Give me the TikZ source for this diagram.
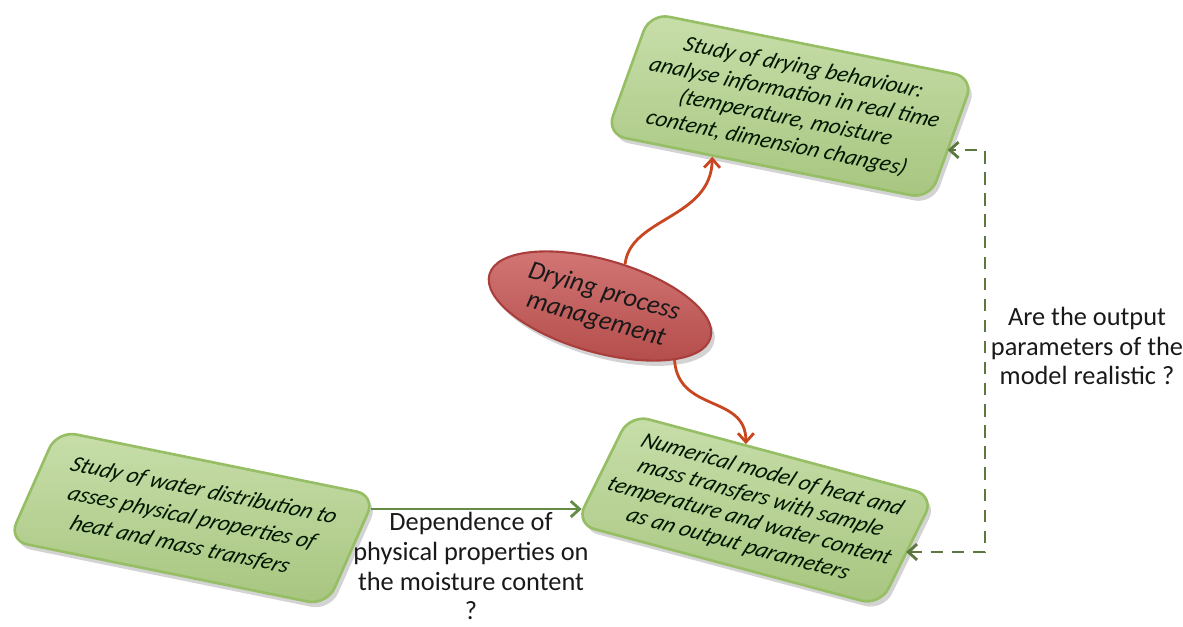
\documentclass[tikz,border=0pt]{standalone}
\usepackage{fontspec}
\setmainfont{Carlito}
\usetikzlibrary{arrows.meta,shadows,calc,shapes.geometric}
\definecolor{boxfill}{RGB}{176,208,134}
\definecolor{boxedge}{RGB}{150,190,100}
\definecolor{ellfill}{RGB}{200,86,84}
\definecolor{elledge}{RGB}{170,62,60}
\definecolor{redarrow}{RGB}{200,70,32}
\definecolor{greenarrow}{RGB}{100,140,70}
\definecolor{dashgreen}{RGB}{90,120,64}
\begin{document}
\begin{tikzpicture}[x=0.02cm,y=-0.02cm,
  greenbox/.style={draw=boxedge, line width=1.5pt, rounded corners=11pt,
    top color=boxfill!70!white, bottom color=boxfill!95!black,
    drop shadow={opacity=0.35, shadow xshift=2pt, shadow yshift=-3pt},
    align=center, text=black!85!green!60!black},
  redell/.style={ellipse, draw=elledge, line width=1.2pt,
    top color=ellfill!80!white, bottom color=ellfill!90!black,
    drop shadow={opacity=0.35, shadow xshift=2pt, shadow yshift=-3pt},
    align=center, font=\fontsize{15}{16.5}\selectfont\itshape, text=black!90},
  redarr/.style={draw=redarrow, line width=1.6pt, -{Straight Barb[length=5pt,width=9pt]}},
  greenarr/.style={draw=greenarrow, line width=1.6pt, -{Straight Barb[length=5pt,width=9pt]}},
  dasharr/.style={draw=dashgreen, line width=1.6pt, dash pattern=on 7pt off 5pt,
    {Straight Barb[length=5pt,width=9pt]}-{Straight Barb[length=5pt,width=9pt]}},
  lbl/.style={align=center, font=\fontsize{15}{17}\selectfont, text=black!90}
]
\useasboundingbox (0,0) rectangle (1183,626);

\node[greenbox, minimum width=6.6cm, minimum height=2.55cm, rotate=-11.3, xslant=0.15,
  font=\fontsize{13}{15}\selectfont\itshape]
  (T) at (790,106) {Study of drying behaviour:\\analyse information in real time\\(temperature, moisture\\content, dimension changes)};

\node[greenbox, minimum width=6.3cm, minimum height=2.4cm, rotate=-15, xslant=0.2,
  font=\fontsize{13}{14.4}\selectfont\itshape]
  (N) at (755,510) {Numerical model of heat and\\mass transfers with sample\\temperature and water content\\as an output parameters};

\node[greenbox, minimum width=6.5cm, minimum height=2.35cm, rotate=-11.5, xslant=0.22,
  font=\fontsize{13}{16.5}\selectfont\itshape]
  (L) at (192,518) {Study of water distribution to\\asses physical properties of\\heat and mass transfers};

\node[redell, minimum width=4.6cm, minimum height=1.85cm, inner sep=0pt, rotate=-16]
  (D) at (600,306) {Drying process\\management};

\coordinate (c1) at (985,552);
\coordinate (c2) at (985,150);
\coordinate (Te) at ($(T.north east)!0.62!(T.south east)$);
\coordinate (Ne) at ($(N.north east)!0.54!(N.south east)$);
\coordinate (Lr) at ($(L.north east)!0.13!(L.south east)$);
\coordinate (Nw) at ($(N.north west)!0.86!(N.south west)$);

\draw[redarr] (D.75) .. controls +(5,-47) and +(-1,62) .. ($(T.south)!0.34!(T.south west)$);
\draw[redarr] (D.-20) .. controls +(4,53) and +(0,-50) .. ($(N.north)!0.24!(N.north west)$);
\draw[greenarr] (Lr) -- (Lr -| Nw);
\draw[dasharr] (c1 -| Ne) -- (c1) -- (c2) -- (c2 -| Te);

\node[lbl] (q1) at (471,566) {Dependence of\\physical properties on\\the moisture content\\?};
\node[lbl] (q2) at (1087,346) {Are the output\\parameters of the\\model realistic ?};
\end{tikzpicture}
\end{document}
